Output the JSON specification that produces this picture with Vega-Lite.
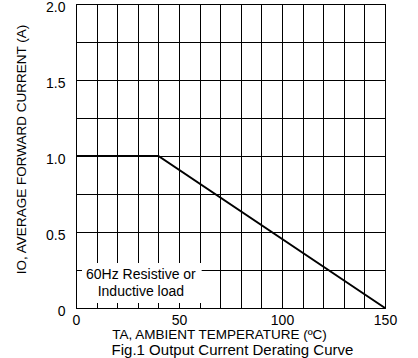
{
  "$schema": "https://vega.github.io/schema/vega-lite/v6.json",
  "width": 309,
  "height": 304,
  "autosize": "none",
  "padding": {"left": 76, "top": 4, "right": 33, "bottom": 50},
  "background": "white",
  "title": {
    "text": "Fig.1 Output Current Derating Curve",
    "orient": "bottom",
    "anchor": "middle",
    "font": "Liberation Sans",
    "fontSize": 15,
    "fontWeight": "normal",
    "color": "black",
    "offset": 2,
    "dx": 2
  },
  "config": {
    "view": {"stroke": "black", "strokeWidth": 1},
    "font": "Liberation Sans",
    "axis": {
      "labelFont": "Liberation Sans",
      "titleFont": "Liberation Sans",
      "labelFontSize": 14,
      "titleFontSize": 13.5,
      "labelColor": "black",
      "titleColor": "black",
      "titleFontWeight": "normal",
      "gridColor": "black",
      "gridOpacity": 1,
      "gridWidth": 1,
      "domainColor": "black",
      "ticks": false
    }
  },
  "encoding": {
    "x": {
      "field": "x", "type": "quantitative",
      "scale": {"domain": [0, 150], "nice": false, "zero": false},
      "axis": {
        "values": [0,10,20,30,40,50,60,70,80,90,100,110,120,130,140,150],
        "labelExpr": "datum.value % 50 == 0 ? format(datum.value, 'd') : ''",
        "grid": true,
        "labelPadding": 5,
        "labelFlush": false,
        "title": "TA, AMBIENT TEMPERATURE (ºC)",
        "titleBaseline": "alphabetic",
        "titleX": 143,
        "titleY": 30
      }
    },
    "y": {
      "field": "y", "type": "quantitative",
      "scale": {"domain": [0, 2], "nice": false, "zero": false},
      "axis": {
        "values": [0,0.25,0.5,0.75,1,1.25,1.5,1.75,2],
        "labelExpr": "datum.value % 0.5 == 0 ? (datum.value == 0 ? '0' : format(datum.value, '.1f')) : ''",
        "grid": true,
        "labelPadding": 11,
        "labelOffset": 3,
        "labelFlush": false,
        "title": "IO, AVERAGE FORWARD CURRENT (A)",
        "titlePadding": 17,
        "titleY": 145
      }
    }
  },
  "layer": [
    {
      "data": {"values": [{"x": 2.9, "x2": 61, "y": 0.033, "y2": 0.296}]},
      "mark": {"type": "rect", "color": "white", "strokeWidth": 0},
      "encoding": {
        "x2": {"field": "x2"},
        "y2": {"field": "y2"}
      }
    },
    {
      "data": {"values": [
        {"x": 0, "y": 1.0},
        {"x": 40, "y": 1.0},
        {"x": 150, "y": 0.0}
      ]},
      "mark": {"type": "line", "color": "black", "strokeWidth": 2}
    },
    {
      "data": {"values": [
        {"x": 31.5, "y": 0.217, "label": "60Hz Resistive or"},
        {"x": 31.5, "y": 0.105, "label": "Inductive load"}
      ]},
      "mark": {"type": "text", "font": "Liberation Sans", "fontSize": 14, "color": "black", "align": "center", "baseline": "middle"},
      "encoding": {
        "text": {"field": "label"}
      }
    }
  ]
}
